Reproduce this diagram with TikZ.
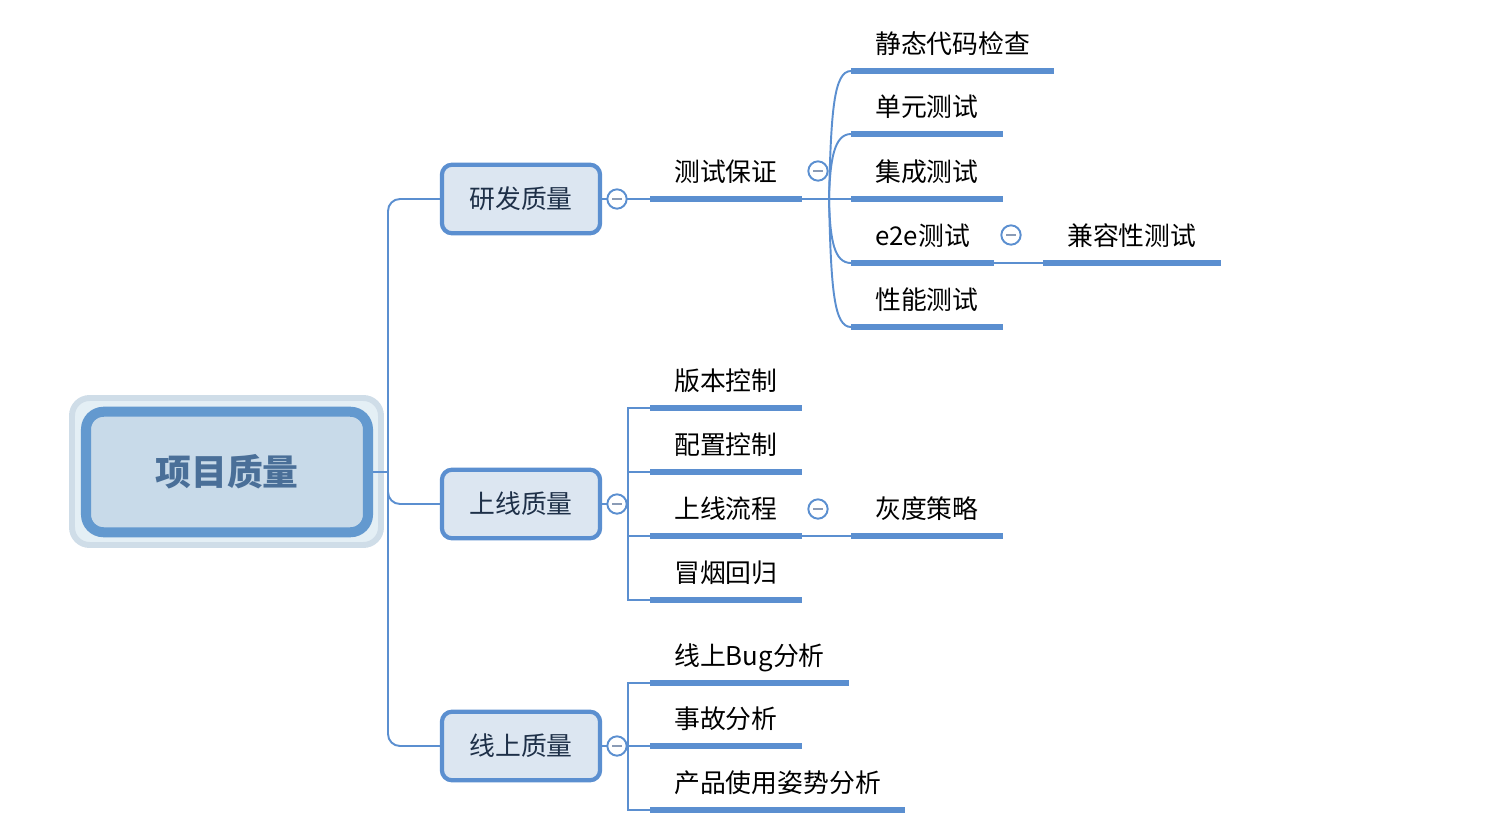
\documentclass[tikz,border=0pt]{standalone}
\usepackage{fontspec}
\setmainfont{Noto Sans CJK SC}
\definecolor{lineblue}{HTML}{5B8FD0}
\definecolor{rootblue}{HTML}{6399CF}
\definecolor{rootfill}{HTML}{C8DAE9}
\definecolor{roottext}{HTML}{4A6F98}
\definecolor{glowedge}{HTML}{CFDDE8}
\definecolor{glowfill}{HTML}{E4EFF5}
\definecolor{branchfill}{HTML}{DCE6F1}
\definecolor{branchtext}{HTML}{1E3048}
\definecolor{togminus}{HTML}{8A9BB6}
\newcommand\leaffont{\fontsize{14.7pt}{17pt}\selectfont}
\newcommand\rootfont{\fontsize{20.4pt}{24pt}\selectfont\bfseries}
\begin{document}
\begin{tikzpicture}[x=0.02cm, y=-0.02cm,
    link/.style={draw=lineblue, line width=1.1pt},
    uline/.style={draw=lineblue, line width=3.1pt},
    topic/.style={anchor=south west, inner xsep=13.6pt, inner ysep=6.8pt,
        text height=11pt, text depth=3pt, font=\leaffont,
        append after command={(\tikzlastnode.south west) edge[uline] (\tikzlastnode.south east)}},
    branch/.style={draw=lineblue, line width=2.4pt, fill=branchfill, rounded corners=5.7pt,
        minimum width=90pt, minimum height=39pt, inner sep=0pt, text=branchtext, font=\leaffont},
    toggle/.style={circle, draw=lineblue, line width=1.1pt, fill=white, minimum size=11pt, inner sep=0pt,
        path picture={\draw[togminus, line width=1pt] ([xshift=-2.8pt]path picture bounding box.center)
            -- ([xshift=2.8pt]path picture bounding box.center);}}]
    \useasboundingbox (0,0) rectangle (1504,838);

    % Root
    \draw[draw=glowedge, fill=glowfill, line width=3.4pt, rounded corners=10pt] (72,398) rectangle (381,545);
    \node[draw=rootblue, line width=5.7pt, fill=rootfill, rounded corners=10pt, minimum width=160.5pt,
        minimum height=68.6pt, inner sep=0pt, text=roottext, font=\rootfont] (root) at (227,472) {项目质量};

    % Main branches
    \node[branch] (dev) at (521,199) {研发质量};
    \node[branch] (rel) at (521,504) {上线质量};
    \node[branch] (onl) at (521,746) {线上质量};

    % Topics
    \node[topic] (test) at (650,199) {测试保证};
    \node[topic] (static) at (851,71) {静态代码检查};
    \node[topic] (unit) at (851,134) {单元测试};
    \node[topic] (integ) at (851,199) {集成测试};
    \node[topic] (e2e) at (851,263) {e2e测试};
    \node[topic] (compat) at (1043,263) {兼容性测试};
    \node[topic] (perf) at (851,327) {性能测试};

    \node[topic] (version) at (650,408) {版本控制};
    \node[topic] (config) at (650,472) {配置控制};
    \node[topic] (launch) at (650,536) {上线流程};
    \node[topic] (gray) at (851,536) {灰度策略};
    \node[topic] (smoke) at (650,600) {冒烟回归};

    \node[topic] (bug) at (650,683) {线上Bug分析};
    \node[topic] (incident) at (650,746) {事故分析};
    \node[topic] (usage) at (650,810) {产品使用姿势分析};

    % Draw edges
    \draw[link] (root.east) -- (388,472) coordinate (trunk);
    \draw[link, rounded corners=6.8pt] (trunk) |- (dev.west);
    \draw[link, rounded corners=6.8pt] (trunk) |- (rel.west);
    \draw[link, rounded corners=6.8pt] (trunk) |- (onl.west);

    \draw[link] (dev.east) -- (test.south west);
    \draw[link] (test.south east) -- (829,199) coordinate (testhub) -- (integ.south west);
    \draw[link] (testhub) .. controls (831,110) and (834,71) .. (static.south west);
    \draw[link] (testhub) .. controls (830,160) and (834,134) .. (unit.south west);
    \draw[link] (testhub) .. controls (830,240) and (834,263) .. (e2e.south west);
    \draw[link] (testhub) .. controls (831,290) and (834,327) .. (perf.south west);
    \draw[link] (e2e.south east) -- (compat.south west);

    \draw[link] (rel.east) -- (628,504) coordinate (relhub);
    \foreach \c in {version,config,launch,smoke}
        \draw[link] (relhub) |- (\c.south west);
    \draw[link] (launch.south east) -- (gray.south west);

    \draw[link] (onl.east) -- (628,746) coordinate (onlhub);
    \foreach \c in {bug,incident,usage}
        \draw[link] (onlhub) |- (\c.south west);

    % Collapse buttons
    \node[toggle] (devtog) at (617,199) {};
    \node[toggle] (reltog) at (617,504) {};
    \node[toggle] (onltog) at (617,746) {};
    \node[toggle] (testtog) at (818,171) {};
    \node[toggle] (e2etog) at (1011,235) {};
    \node[toggle] (launchtog) at (818,509) {};

\end{tikzpicture}
\end{document}
